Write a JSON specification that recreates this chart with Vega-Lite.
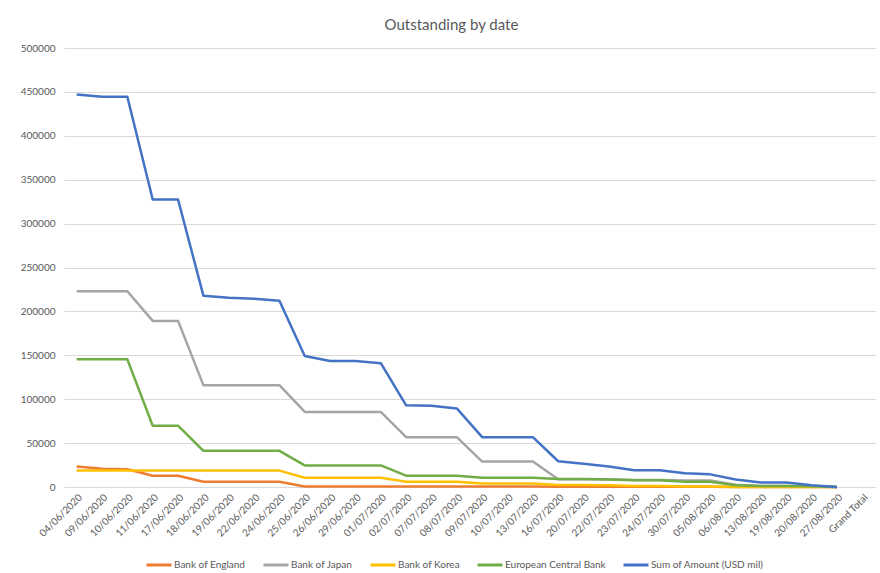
{
  "$schema": "https://vega.github.io/schema/vega-lite/v6.json",
  "width": 811,
  "height": 439,
  "autosize": {"type": "none"},
  "padding": {"left": 64, "top": 48, "right": 5, "bottom": 86},
  "background": "white",
  "config": {"font": "Lato", "view": {"stroke": null}},
  "title": {"text": "Outstanding by date", "fontSize": 15, "fontWeight": "normal", "color": "#595959", "anchor": "middle", "frame": "group", "dx": -18, "offset": 10},
  "data": {"values": [
    {"date":"04/06/2020","bank":"Bank of England","value":23400},
    {"date":"09/06/2020","bank":"Bank of England","value":20700},
    {"date":"10/06/2020","bank":"Bank of England","value":20300},
    {"date":"11/06/2020","bank":"Bank of England","value":12900},
    {"date":"17/06/2020","bank":"Bank of England","value":12900},
    {"date":"18/06/2020","bank":"Bank of England","value":5900},
    {"date":"19/06/2020","bank":"Bank of England","value":5900},
    {"date":"22/06/2020","bank":"Bank of England","value":5900},
    {"date":"24/06/2020","bank":"Bank of England","value":5900},
    {"date":"25/06/2020","bank":"Bank of England","value":500},
    {"date":"26/06/2020","bank":"Bank of England","value":500},
    {"date":"29/06/2020","bank":"Bank of England","value":500},
    {"date":"01/07/2020","bank":"Bank of England","value":500},
    {"date":"02/07/2020","bank":"Bank of England","value":500},
    {"date":"07/07/2020","bank":"Bank of England","value":500},
    {"date":"08/07/2020","bank":"Bank of England","value":500},
    {"date":"09/07/2020","bank":"Bank of England","value":500},
    {"date":"10/07/2020","bank":"Bank of England","value":500},
    {"date":"13/07/2020","bank":"Bank of England","value":500},
    {"date":"16/07/2020","bank":"Bank of England","value":300},
    {"date":"20/07/2020","bank":"Bank of England","value":300},
    {"date":"22/07/2020","bank":"Bank of England","value":300},
    {"date":"23/07/2020","bank":"Bank of England","value":300},
    {"date":"24/07/2020","bank":"Bank of England","value":300},
    {"date":"30/07/2020","bank":"Bank of England","value":200},
    {"date":"05/08/2020","bank":"Bank of England","value":200},
    {"date":"06/08/2020","bank":"Bank of England","value":0},
    {"date":"13/08/2020","bank":"Bank of England","value":0},
    {"date":"19/08/2020","bank":"Bank of England","value":0},
    {"date":"20/08/2020","bank":"Bank of England","value":0},
    {"date":"27/08/2020","bank":"Bank of England","value":0},

    {"date":"04/06/2020","bank":"Bank of Japan","value":222900},
    {"date":"09/06/2020","bank":"Bank of Japan","value":222900},
    {"date":"10/06/2020","bank":"Bank of Japan","value":222900},
    {"date":"11/06/2020","bank":"Bank of Japan","value":189200},
    {"date":"17/06/2020","bank":"Bank of Japan","value":189200},
    {"date":"18/06/2020","bank":"Bank of Japan","value":116000},
    {"date":"19/06/2020","bank":"Bank of Japan","value":116000},
    {"date":"22/06/2020","bank":"Bank of Japan","value":116000},
    {"date":"24/06/2020","bank":"Bank of Japan","value":116000},
    {"date":"25/06/2020","bank":"Bank of Japan","value":85500},
    {"date":"26/06/2020","bank":"Bank of Japan","value":85500},
    {"date":"29/06/2020","bank":"Bank of Japan","value":85500},
    {"date":"01/07/2020","bank":"Bank of Japan","value":85500},
    {"date":"02/07/2020","bank":"Bank of Japan","value":56700},
    {"date":"07/07/2020","bank":"Bank of Japan","value":56700},
    {"date":"08/07/2020","bank":"Bank of Japan","value":56700},
    {"date":"09/07/2020","bank":"Bank of Japan","value":29000},
    {"date":"10/07/2020","bank":"Bank of Japan","value":29000},
    {"date":"13/07/2020","bank":"Bank of Japan","value":29000},
    {"date":"16/07/2020","bank":"Bank of Japan","value":8800},
    {"date":"20/07/2020","bank":"Bank of Japan","value":8800},
    {"date":"22/07/2020","bank":"Bank of Japan","value":8800},
    {"date":"23/07/2020","bank":"Bank of Japan","value":8000},
    {"date":"24/07/2020","bank":"Bank of Japan","value":8000},
    {"date":"30/07/2020","bank":"Bank of Japan","value":7500},
    {"date":"05/08/2020","bank":"Bank of Japan","value":7500},
    {"date":"06/08/2020","bank":"Bank of Japan","value":2500},
    {"date":"13/08/2020","bank":"Bank of Japan","value":1000},
    {"date":"19/08/2020","bank":"Bank of Japan","value":1000},
    {"date":"20/08/2020","bank":"Bank of Japan","value":500},
    {"date":"27/08/2020","bank":"Bank of Japan","value":0},

    {"date":"04/06/2020","bank":"Bank of Korea","value":18700},
    {"date":"09/06/2020","bank":"Bank of Korea","value":18700},
    {"date":"10/06/2020","bank":"Bank of Korea","value":18700},
    {"date":"11/06/2020","bank":"Bank of Korea","value":18700},
    {"date":"17/06/2020","bank":"Bank of Korea","value":18700},
    {"date":"18/06/2020","bank":"Bank of Korea","value":18700},
    {"date":"19/06/2020","bank":"Bank of Korea","value":18700},
    {"date":"22/06/2020","bank":"Bank of Korea","value":18700},
    {"date":"24/06/2020","bank":"Bank of Korea","value":18700},
    {"date":"25/06/2020","bank":"Bank of Korea","value":10500},
    {"date":"26/06/2020","bank":"Bank of Korea","value":10500},
    {"date":"29/06/2020","bank":"Bank of Korea","value":10500},
    {"date":"01/07/2020","bank":"Bank of Korea","value":10500},
    {"date":"02/07/2020","bank":"Bank of Korea","value":5900},
    {"date":"07/07/2020","bank":"Bank of Korea","value":5900},
    {"date":"08/07/2020","bank":"Bank of Korea","value":5900},
    {"date":"09/07/2020","bank":"Bank of Korea","value":3900},
    {"date":"10/07/2020","bank":"Bank of Korea","value":3900},
    {"date":"13/07/2020","bank":"Bank of Korea","value":3900},
    {"date":"16/07/2020","bank":"Bank of Korea","value":2200},
    {"date":"20/07/2020","bank":"Bank of Korea","value":2200},
    {"date":"22/07/2020","bank":"Bank of Korea","value":2000},
    {"date":"23/07/2020","bank":"Bank of Korea","value":1000},
    {"date":"24/07/2020","bank":"Bank of Korea","value":1000},
    {"date":"30/07/2020","bank":"Bank of Korea","value":500},
    {"date":"05/08/2020","bank":"Bank of Korea","value":500},
    {"date":"06/08/2020","bank":"Bank of Korea","value":0},
    {"date":"13/08/2020","bank":"Bank of Korea","value":0},
    {"date":"19/08/2020","bank":"Bank of Korea","value":0},
    {"date":"20/08/2020","bank":"Bank of Korea","value":0},
    {"date":"27/08/2020","bank":"Bank of Korea","value":0},

    {"date":"04/06/2020","bank":"European Central Bank","value":145400},
    {"date":"09/06/2020","bank":"European Central Bank","value":145400},
    {"date":"10/06/2020","bank":"European Central Bank","value":145400},
    {"date":"11/06/2020","bank":"European Central Bank","value":69800},
    {"date":"17/06/2020","bank":"European Central Bank","value":69800},
    {"date":"18/06/2020","bank":"European Central Bank","value":41200},
    {"date":"19/06/2020","bank":"European Central Bank","value":41200},
    {"date":"22/06/2020","bank":"European Central Bank","value":41200},
    {"date":"24/06/2020","bank":"European Central Bank","value":41200},
    {"date":"25/06/2020","bank":"European Central Bank","value":24600},
    {"date":"26/06/2020","bank":"European Central Bank","value":24600},
    {"date":"29/06/2020","bank":"European Central Bank","value":24600},
    {"date":"01/07/2020","bank":"European Central Bank","value":24600},
    {"date":"02/07/2020","bank":"European Central Bank","value":12900},
    {"date":"07/07/2020","bank":"European Central Bank","value":12900},
    {"date":"08/07/2020","bank":"European Central Bank","value":12900},
    {"date":"09/07/2020","bank":"European Central Bank","value":10500},
    {"date":"10/07/2020","bank":"European Central Bank","value":10500},
    {"date":"13/07/2020","bank":"European Central Bank","value":10500},
    {"date":"16/07/2020","bank":"European Central Bank","value":9000},
    {"date":"20/07/2020","bank":"European Central Bank","value":9000},
    {"date":"22/07/2020","bank":"European Central Bank","value":8600},
    {"date":"23/07/2020","bank":"European Central Bank","value":7800},
    {"date":"24/07/2020","bank":"European Central Bank","value":7800},
    {"date":"30/07/2020","bank":"European Central Bank","value":5900},
    {"date":"05/08/2020","bank":"European Central Bank","value":5900},
    {"date":"06/08/2020","bank":"European Central Bank","value":2000},
    {"date":"13/08/2020","bank":"European Central Bank","value":1200},
    {"date":"19/08/2020","bank":"European Central Bank","value":1200},
    {"date":"20/08/2020","bank":"European Central Bank","value":800},
    {"date":"27/08/2020","bank":"European Central Bank","value":0},

    {"date":"04/06/2020","bank":"Sum of Amount (USD mil)","value":447000},
    {"date":"09/06/2020","bank":"Sum of Amount (USD mil)","value":444500},
    {"date":"10/06/2020","bank":"Sum of Amount (USD mil)","value":444500},
    {"date":"11/06/2020","bank":"Sum of Amount (USD mil)","value":327400},
    {"date":"17/06/2020","bank":"Sum of Amount (USD mil)","value":327400},
    {"date":"18/06/2020","bank":"Sum of Amount (USD mil)","value":217900},
    {"date":"19/06/2020","bank":"Sum of Amount (USD mil)","value":215600},
    {"date":"22/06/2020","bank":"Sum of Amount (USD mil)","value":214500},
    {"date":"24/06/2020","bank":"Sum of Amount (USD mil)","value":212200},
    {"date":"25/06/2020","bank":"Sum of Amount (USD mil)","value":149200},
    {"date":"26/06/2020","bank":"Sum of Amount (USD mil)","value":143500},
    {"date":"29/06/2020","bank":"Sum of Amount (USD mil)","value":143500},
    {"date":"01/07/2020","bank":"Sum of Amount (USD mil)","value":141000},
    {"date":"02/07/2020","bank":"Sum of Amount (USD mil)","value":93000},
    {"date":"07/07/2020","bank":"Sum of Amount (USD mil)","value":92500},
    {"date":"08/07/2020","bank":"Sum of Amount (USD mil)","value":89500},
    {"date":"09/07/2020","bank":"Sum of Amount (USD mil)","value":56800},
    {"date":"10/07/2020","bank":"Sum of Amount (USD mil)","value":56800},
    {"date":"13/07/2020","bank":"Sum of Amount (USD mil)","value":56800},
    {"date":"16/07/2020","bank":"Sum of Amount (USD mil)","value":29300},
    {"date":"20/07/2020","bank":"Sum of Amount (USD mil)","value":26600},
    {"date":"22/07/2020","bank":"Sum of Amount (USD mil)","value":23400},
    {"date":"23/07/2020","bank":"Sum of Amount (USD mil)","value":19100},
    {"date":"24/07/2020","bank":"Sum of Amount (USD mil)","value":19100},
    {"date":"30/07/2020","bank":"Sum of Amount (USD mil)","value":15600},
    {"date":"05/08/2020","bank":"Sum of Amount (USD mil)","value":14400},
    {"date":"06/08/2020","bank":"Sum of Amount (USD mil)","value":8600},
    {"date":"13/08/2020","bank":"Sum of Amount (USD mil)","value":5100},
    {"date":"19/08/2020","bank":"Sum of Amount (USD mil)","value":5100},
    {"date":"20/08/2020","bank":"Sum of Amount (USD mil)","value":2000},
    {"date":"27/08/2020","bank":"Sum of Amount (USD mil)","value":0}
  ]},
  "mark": {"type": "line", "strokeWidth": 2.5, "strokeJoin": "round", "strokeCap": "butt"},
  "encoding": {
    "x": {
      "field": "date", "type": "ordinal",
      "scale": {"type": "point", "padding": 0.5, "domain": ["04/06/2020","09/06/2020","10/06/2020","11/06/2020","17/06/2020","18/06/2020","19/06/2020","22/06/2020","24/06/2020","25/06/2020","26/06/2020","29/06/2020","01/07/2020","02/07/2020","07/07/2020","08/07/2020","09/07/2020","10/07/2020","13/07/2020","16/07/2020","20/07/2020","22/07/2020","23/07/2020","24/07/2020","30/07/2020","05/08/2020","06/08/2020","13/08/2020","19/08/2020","20/08/2020","27/08/2020","Grand Total"]},
      "axis": {"title": null, "labelAngle": -45, "labelFontSize": 10, "labelColor": "#595959", "labelPadding": 5, "ticks": false, "domain": false, "grid": false, "labelOverlap": false}
    },
    "y": {
      "field": "value", "type": "quantitative",
      "scale": {"domain": [0, 500000], "nice": false},
      "axis": {"title": null, "values": [0,50000,100000,150000,200000,250000,300000,350000,400000,450000,500000], "format": "d", "labelFontSize": 10, "labelColor": "#595959", "labelPadding": 9, "ticks": false, "domain": false, "gridColor": "#d9d9d9", "gridWidth": 1}
    },
    "color": {
      "field": "bank", "type": "nominal",
      "scale": {"domain": ["Bank of England","Bank of Japan","Bank of Korea","European Central Bank","Sum of Amount (USD mil)"], "range": ["#ED7D31","#A5A5A5","#FFC000","#70AD47","#4472C4"]},
      "legend": {"title": null, "orient": "none", "legendX": 81, "legendY": 503, "direction": "horizontal", "columns": 5, "columnPadding": 11, "symbolType": "stroke", "symbolSize": 625, "symbolStrokeWidth": 3, "labelFontSize": 10, "labelColor": "#595959", "labelOffset": 1}
    }
  }
}
